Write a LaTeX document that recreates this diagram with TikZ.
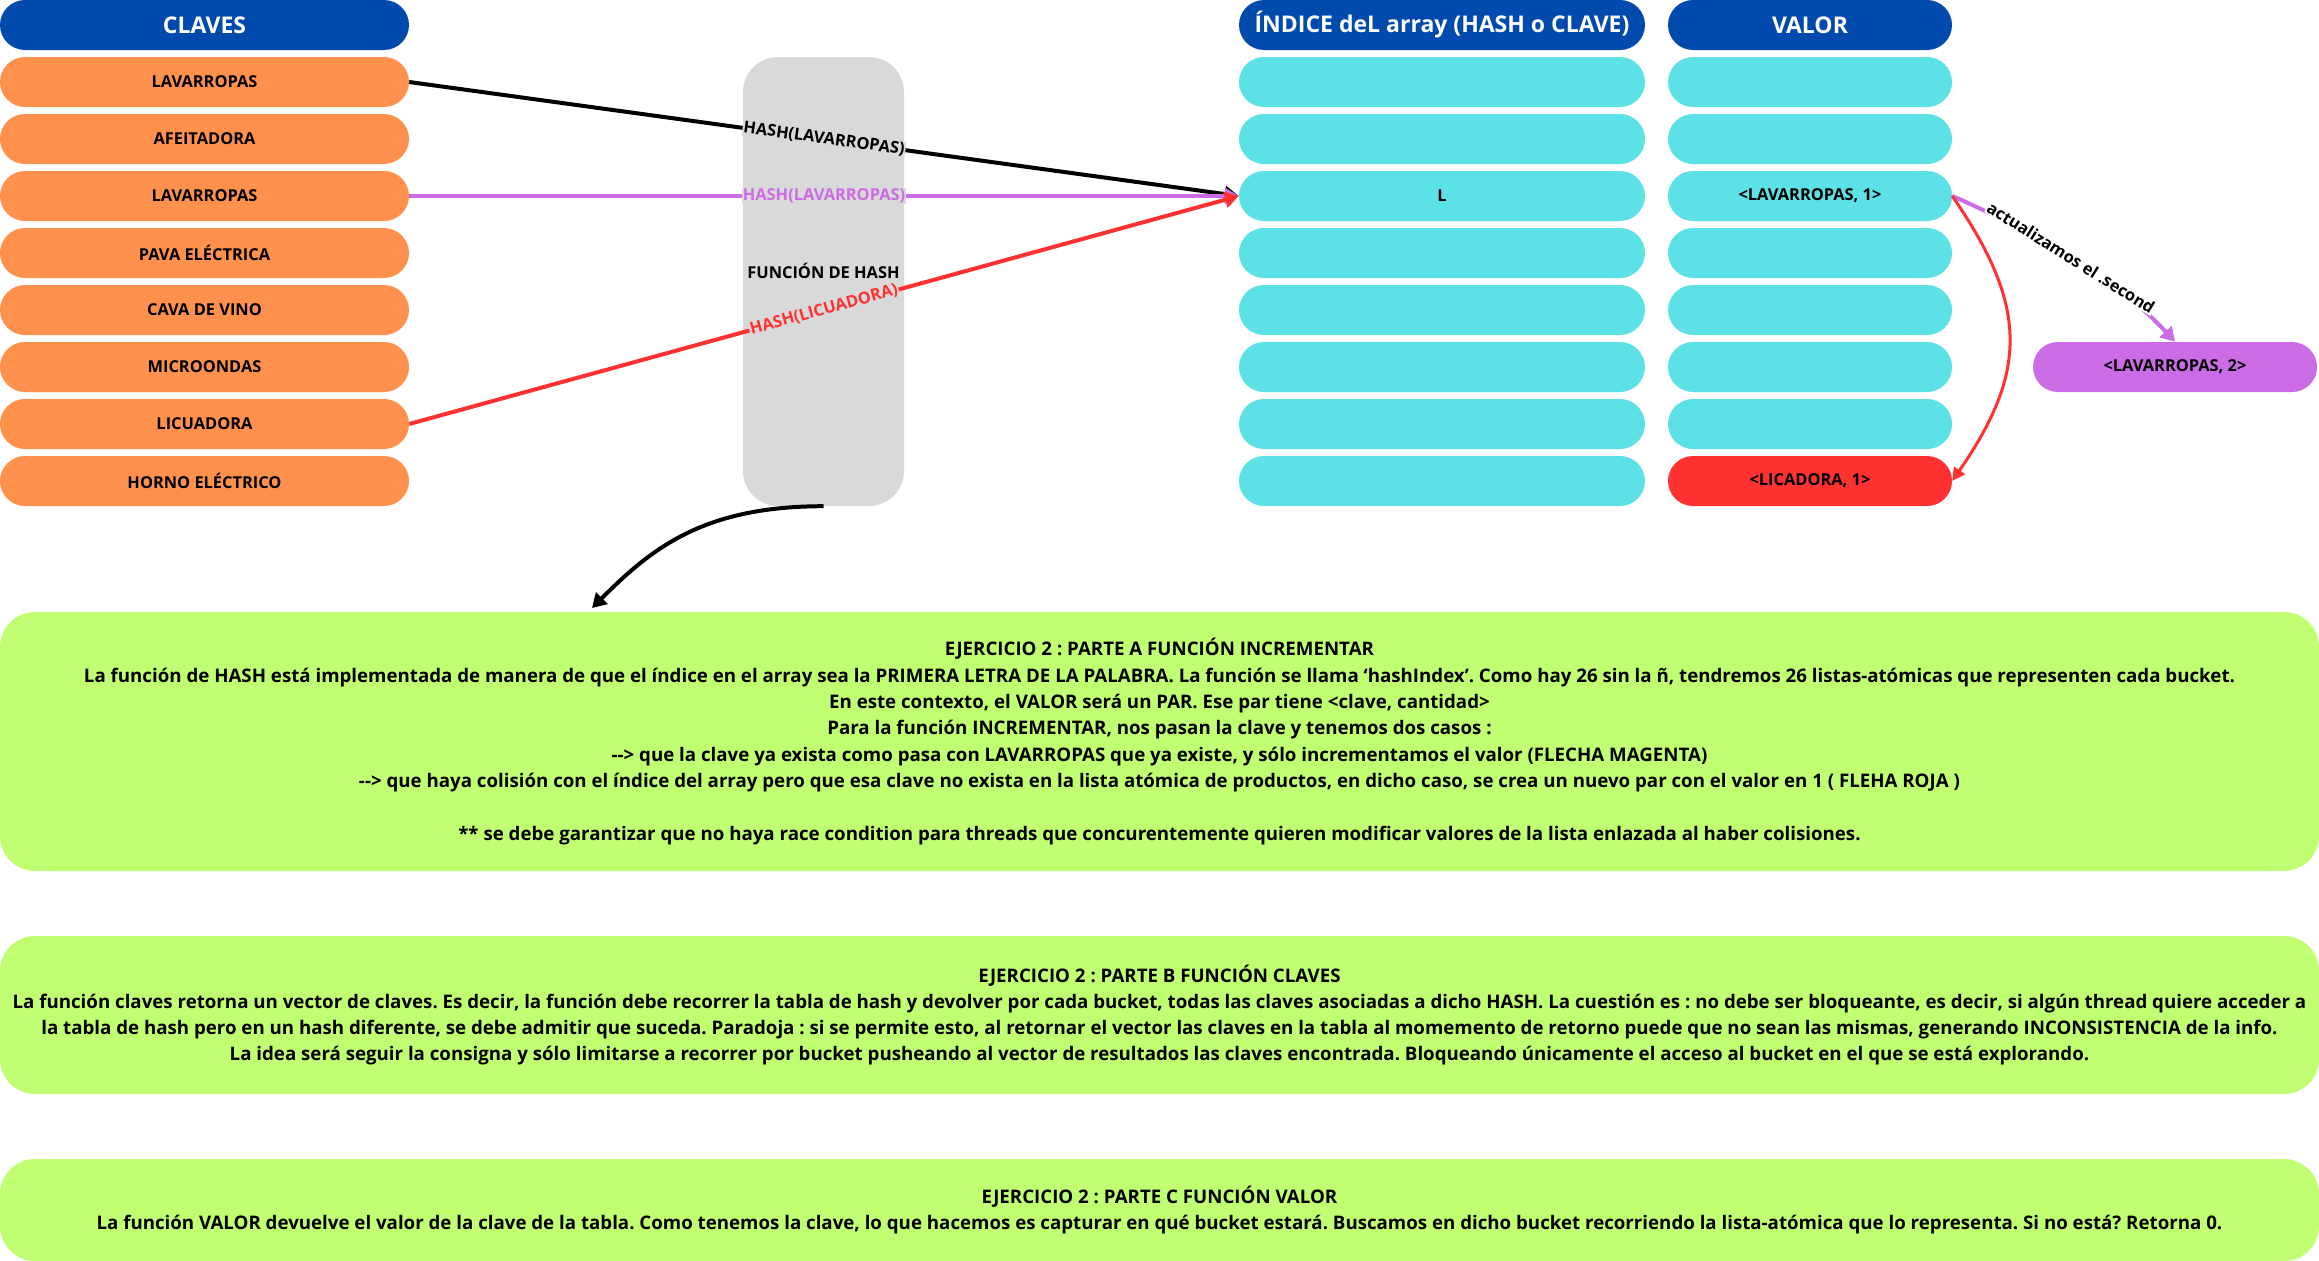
\documentclass[tikz,border=0pt]{standalone}
\usepackage{fontspec}
\setmainfont{Open Sans}
\usetikzlibrary{arrows.meta}
\definecolor{hdr}{HTML}{004AAD}
\definecolor{ora}{HTML}{FF914D}
\definecolor{cya}{HTML}{5CE1E6}
\definecolor{pur}{HTML}{CB6CE6}
\definecolor{redc}{HTML}{FF3131}
\definecolor{grn}{HTML}{C1FF72}
\definecolor{gry}{HTML}{D9D9D9}
\begin{document}
\frenchspacing
\begin{tikzpicture}[x=1pt,y=-1pt,
  pill/.style={rounded corners=25pt, minimum height=50pt, inner sep=0pt, font=\fontsize{16.4}{19}\selectfont\bfseries},
  hdrbox/.style={pill, fill=hdr, text=white, font=\fontsize{23}{27}\selectfont\bfseries},
  keybox/.style={pill, fill=ora, minimum width=409pt},
  idxbox/.style={pill, fill=cya, minimum width=406pt},
  valbox/.style={pill, fill=cya, minimum width=284pt},
  lbl/.style={sloped, inner sep=1pt, font=\fontsize{16.4}{19}\selectfont\bfseries},
  greenbox/.style={fill=grn, rounded corners=35pt, minimum width=2319pt, inner sep=0pt, align=center, font=\fontsize{18.7}{26.3}\selectfont\bfseries},
  tip/.style={-{Triangle[length=14pt,width=16pt]}},
  conn/.style={line width=4pt, tip},
]
\useasboundingbox (0,0) rectangle (2319,1261);

% headers
\node[hdrbox, minimum width=409pt] (hk) at (204.5,25) {CLAVES};
\node[hdrbox, minimum width=406pt] (hi) at (1442,25) {ÍNDICE deL array (HASH o CLAVE)};
\node[hdrbox, minimum width=284pt] (hv) at (1810,25) {VALOR};

% keys
\node[keybox] (k1) at (204.5,82) {LAVARROPAS};
\node[keybox] (k2) at (204.5,139) {AFEITADORA};
\node[keybox] (k3) at (204.5,196) {LAVARROPAS};
\node[keybox] (k4) at (204.5,253) {PAVA ELÉCTRICA};
\node[keybox] (k5) at (204.5,310) {CAVA DE VINO};
\node[keybox] (k6) at (204.5,367) {MICROONDAS};
\node[keybox] (k7) at (204.5,424) {LICUADORA};
\node[keybox] (k8) at (204.5,481) {HORNO ELÉCTRICO};

% index
\node[idxbox] (i1) at (1442,82) {};
\node[idxbox] (i2) at (1442,139) {};
\node[idxbox] (i3) at (1442,196) {L};
\node[idxbox] (i4) at (1442,253) {};
\node[idxbox] (i5) at (1442,310) {};
\node[idxbox] (i6) at (1442,367) {};
\node[idxbox] (i7) at (1442,424) {};
\node[idxbox] (i8) at (1442,481) {};

% values
\node[valbox] (v1) at (1810,82) {};
\node[valbox] (v2) at (1810,139) {};
\node[valbox] (v3) at (1810,196) {<LAVARROPAS, 1>};
\node[valbox] (v4) at (1810,253) {};
\node[valbox] (v5) at (1810,310) {};
\node[valbox] (v6) at (1810,367) {};
\node[valbox] (v7) at (1810,424) {};
\node[valbox, fill=redc] (v8) at (1810,481) {<LICADORA, 1>};

\node[valbox, fill=pur] (pn) at (2175,367) {<LAVARROPAS, 2>};

% hash function box
\node[fill=gry, rounded corners=35pt, minimum width=161pt, minimum height=449pt, inner sep=0pt] (hashfn) at (823.5,281.5) {};
\node[lbl, sloped=false] (fntxt) at (823.5,271) {FUNCIÓN DE HASH};

% connectors
\draw[conn, black] (k1.east) -- node[lbl, fill=gry] {HASH(LAVARROPAS)} (i3.west);
\draw[conn, pur] (k3.east) -- node[lbl, fill=gry, text=pur] {HASH(LAVARROPAS)} (i3.west);
\draw[conn, redc] (k7.east) -- node[lbl, fill=gry, text=redc] {HASH(LICUADORA)} (i3.west);

\draw[conn, pur] (v3.east) .. controls +(80,35) and +(-60,-65) .. node[lbl, fill=white, text=black] {actualizamos el .second} (pn.north);
\draw[line width=3pt, redc, -{Triangle[length=13pt,width=13pt]}] (v3.east) .. controls +(76,110) and +(76,-110) .. (v8.east);

\coordinate (aend) at (592,608);
\draw[conn, black] (hashfn.south) .. controls +(-120,0) and +(60,-60) .. (aend);

% green boxes
\node[greenbox, minimum height=259pt] (ga) at (1159.5,741.5) {EJERCICIO 2 : PARTE A FUNCIÓN INCREMENTAR\\
La función de HASH está implementada de manera de que el índice en el array sea la PRIMERA LETRA DE LA PALABRA. La función se llama ‘hashIndex’. Como hay 26 sin la ñ, tendremos 26 listas-atómicas que representen cada bucket.\\
En este contexto, el VALOR será un PAR. Ese par tiene <clave, cantidad>\\
Para la función INCREMENTAR, nos pasan la clave y tenemos dos casos :\\
-\kern0pt-\kern0pt> que la clave ya exista como pasa con LAVARROPAS que ya existe, y sólo incrementamos el valor (FLECHA MAGENTA)\\
-\kern0pt-\kern0pt> que haya colisión con el índice del array pero que esa clave no exista en la lista atómica de productos, en dicho caso, se crea un nuevo par con el valor en 1 ( FLEHA ROJA )\\[26.3pt]
** se debe garantizar que no haya race condition para threads que concurentemente quieren modificar valores de la lista enlazada al haber colisiones.};

\node[greenbox, minimum height=158pt] (gb) at (1159.5,1015) {EJERCICIO 2 : PARTE B FUNCIÓN CLAVES\\
La función claves retorna un vector de claves. Es decir, la función debe recorrer la tabla de hash y devolver por cada bucket, todas las claves asociadas a dicho HASH. La cuestión es : no debe ser bloqueante, es decir, si algún thread quiere acceder a\\
la tabla de hash pero en un hash diferente, se debe admitir que suceda. Paradoja : si se permite esto, al retornar el vector las claves en la tabla al momemento de retorno puede que no sean las mismas, generando INCONSISTENCIA de la info.\\
La idea será seguir la consigna y sólo limitarse a recorrer por bucket pusheando al vector de resultados las claves encontrada. Bloqueando únicamente el acceso al bucket en el que se está explorando.};

\node[greenbox, minimum height=102pt] (gc) at (1159.5,1210) {EJERCICIO 2 : PARTE C FUNCIÓN VALOR\\
La función VALOR devuelve el valor de la clave de la tabla. Como tenemos la clave, lo que hacemos es capturar en qué bucket estará. Buscamos en dicho bucket recorriendo la lista-atómica que lo representa. Si no está? Retorna 0.};
\end{tikzpicture}
\end{document}
